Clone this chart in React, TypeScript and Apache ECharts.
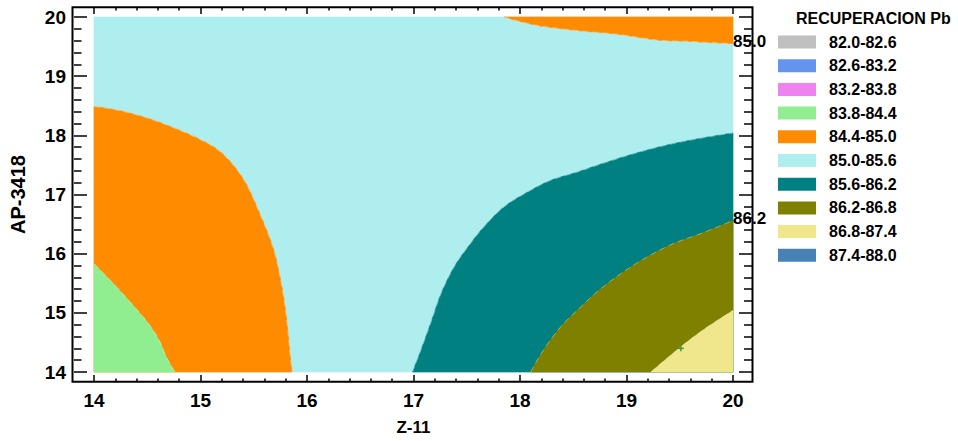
import React, { useEffect, useRef } from "react";
import * as echarts from "echarts";

// ---- Data ----
const xMin = 14, xMax = 20, yMin = 14, yMax = 20;

const legendClasses = [
  "82.0-82.6", "82.6-83.2", "83.2-83.8", "83.8-84.4", "84.4-85.0",
  "85.0-85.6", "85.6-86.2", "86.2-86.8", "86.8-87.4", "87.4-88.0",
];
const classColors = [
  "#C0C0C0", "#6495ED", "#EE82EE", "#90EE90", "#FF8C00",
  "#AFEEEE", "#008080", "#808000", "#F0E68C", "#4682B4",
];

// contour lines (Z-11, AP-3418)
const contour84_4 = [[14, 15.83], [14.12, 15.61], [14.24, 15.38], [14.38, 15.1], [14.51, 14.82], [14.61, 14.54], [14.68, 14.25], [14.76, 14]];
const contour85_0Left = [[14, 18.49], [14.26, 18.41], [14.57, 18.25], [14.95, 17.97], [15.2, 17.7], [15.41, 17.24], [15.57, 16.62], [15.68, 16.11], [15.74, 15.67], [15.79, 15.16], [15.82, 14.71], [15.84, 14.32], [15.86, 14]];
const contour85_0Top = [[17.85, 20], [18.01, 19.92], [18.22, 19.84], [18.6, 19.76], [18.91, 19.71], [19.29, 19.61], [19.57, 19.59], [19.76, 19.57], [20, 19.55]];
const contour85_6 = [[16.99, 14], [17.07, 14.37], [17.17, 14.87], [17.26, 15.33], [17.38, 15.77], [17.51, 16.11], [17.66, 16.45], [17.85, 16.79], [18.07, 17.04], [18.29, 17.24], [18.54, 17.38], [18.82, 17.55], [19.13, 17.72], [19.44, 17.86], [19.76, 17.97], [20, 18.04]];
const contour86_2 = [[18.1, 14], [18.22, 14.37], [18.38, 14.76], [18.57, 15.1], [18.76, 15.41], [18.97, 15.69], [19.19, 15.94], [19.44, 16.17], [19.7, 16.34], [20, 16.56]];
const contour86_8 = [[19.23, 14], [19.38, 14.23], [19.57, 14.51], [19.76, 14.76], [20, 15.04]];

const contourLabels = ["85.0", "86.2"];
const contourLabelLines = [contour85_0Top, contour86_2];

const markerPoints = [[19.51, 14.4]];

type Region = { curve: number[][]; corners: number[][] };
// filled regions per class index
const regions: Record<number, Region[]> = {
  3: [{ curve: contour84_4, corners: [[xMin, yMin]] }],
  4: [
    { curve: contour85_0Left, corners: [[xMin, yMin]] },
    { curve: contour85_0Top, corners: [[xMax, yMax]] },
  ],
  5: [{ curve: [], corners: [[xMin, yMin], [xMin, yMax], [xMax, yMax], [xMax, yMin]] }],
  6: [{ curve: contour85_6, corners: [[xMax, yMin]] }],
  7: [{ curve: contour86_2, corners: [[xMax, yMin]] }],
  8: [{ curve: contour86_8, corners: [[xMax, yMin]] }],
};
const layerZ: Record<number, number> = { 3: 3, 4: 2, 5: 1, 6: 2, 7: 3, 8: 4 };
const allContours = [contour84_4, contour85_0Left, contour85_0Top, contour85_6, contour86_2, contour86_8];

const FONT = "'Liberation Sans', Arial, Helvetica, sans-serif";

// Catmull-Rom smoothing of already-projected pixel points (rendering only)
function smoothPixels(pts: number[][], seg = 8): number[][] {
  const n = pts.length;
  if (n < 3) return pts.slice();
  const out: number[][] = [];
  for (let i = 0; i < n - 1; i++) {
    const p0 = pts[Math.max(i - 1, 0)];
    const p1 = pts[i];
    const p2 = pts[i + 1];
    const p3 = pts[Math.min(i + 2, n - 1)];
    for (let s = 0; s < seg; s++) {
      const t = s / seg, t2 = t * t, t3 = t2 * t;
      const f = (a: number, b: number, c: number, d: number) =>
        0.5 * (2 * b + (-a + c) * t + (2 * a - 5 * b + 4 * c - d) * t2 + (-a + 3 * b - 3 * c + d) * t3);
      out.push([f(p0[0], p1[0], p2[0], p3[0]), f(p0[1], p1[1], p2[1], p3[1])]);
    }
  }
  out.push(pts[n - 1]);
  return out;
}

export default function App() {
  const ref = useRef<HTMLDivElement>(null);
  useEffect(() => {
    if (!ref.current) return;
    const chart = echarts.init(ref.current, undefined, { renderer: "svg" });

    const classSeries = legendClasses.map((name, ci) => {
      const polys = regions[ci] || [];
      return {
        type: "custom",
        name,
        coordinateSystem: "cartesian2d",
        z: layerZ[ci] || 1,
        itemStyle: { color: classColors[ci] },
        data: polys.map((p) => (p.curve.length ? p.curve[0] : p.corners[0])),
        renderItem: (params: any, api: any) => {
          const reg = polys[params.dataIndex];
          const curvePx = smoothPixels(reg.curve.map((pt) => api.coord(pt)));
          const points = [...reg.corners.map((pt) => api.coord(pt)), ...curvePx];
          return {
            type: "polygon",
            shape: { points },
            style: { fill: classColors[ci], stroke: classColors[ci], lineWidth: 0.6 },
          };
        },
      };
    });

    // faint light traces along the contour lines
    const traceSeries = {
      type: "custom",
      coordinateSystem: "cartesian2d",
      z: 8,
      silent: true,
      data: allContours.map((c) => c[0]),
      renderItem: (params: any, api: any) => {
        const c = allContours[params.dataIndex];
        const pts = smoothPixels(c.map((pt) => api.coord(pt)));
        return {
          type: "polyline",
          shape: { points: pts },
          style: { stroke: "rgba(255,255,255,0.35)", lineWidth: 1, fill: "none", lineDash: [6, 4] },
        };
      },
    };

    const labelSeries = {
      type: "custom",
      coordinateSystem: "cartesian2d",
      z: 10,
      clip: false,
      data: contourLabelLines.map((l) => l[l.length - 1]),
      renderItem: (params: any, api: any) => {
        const c = api.coord([api.value(0), api.value(1)]);
        return {
          type: "text",
          x: c[0],
          y: c[1] - 2,
          style: {
            text: contourLabels[params.dataIndex],
            fill: "#000",
            font: `bold 17px ${FONT}`,
            align: "left",
            verticalAlign: "middle",
          },
        };
      },
    };

    const markerSeries = {
      type: "custom",
      coordinateSystem: "cartesian2d",
      z: 9,
      data: markerPoints,
      renderItem: (params: any, api: any) => {
        const c = api.coord([api.value(0), api.value(1)]);
        const st = { stroke: "#3c9a3c", lineWidth: 1.5 };
        return {
          type: "group",
          children: [
            { type: "line", shape: { x1: c[0] - 3, y1: c[1], x2: c[0] + 3, y2: c[1] }, style: st },
            { type: "line", shape: { x1: c[0], y1: c[1] - 3, x2: c[0], y2: c[1] + 3 }, style: st },
          ],
        };
      },
    };

    const tickStyle = { color: "#000", width: 1.5 };
    const labelFont = { fontFamily: FONT, fontWeight: "bold", fontSize: 19, color: "#000" };

    const xBase = {
      type: "value",
      min: xMin,
      max: xMax,
      interval: 1,
      offset: 10,
      axisLine: { show: false },
      splitLine: { show: false },
      axisTick: { show: true, inside: true, length: 7, lineStyle: tickStyle },
      minorTick: { show: true, splitNumber: 5, length: 3.5, lineStyle: tickStyle },
    };
    const yBase = {
      type: "value",
      min: yMin,
      max: yMax,
      interval: 1,
      axisLine: { show: false },
      splitLine: { show: false },
      axisTick: { show: true, inside: true, length: 13, lineStyle: tickStyle },
      minorTick: { show: true, splitNumber: 5, length: 7.5, lineStyle: tickStyle },
    };

    chart.setOption({
      animation: false,
      backgroundColor: "#fff",
      grid: { left: 92, right: 225, top: 17, bottom: 69, containLabel: false },
      title: {
        text: "RECUPERACION Pb",
        left: 796,
        top: 10,
        padding: 0,
        textStyle: { fontFamily: FONT, fontWeight: "bold", fontSize: 16, color: "#000" },
      },
      legend: {
        data: legendClasses,
        orient: "vertical",
        left: 778,
        top: 33,
        padding: 0,
        itemWidth: 38,
        itemHeight: 13,
        itemGap: 5.7,
        icon: "rect",
        selectedMode: false,
        textStyle: { fontFamily: FONT, fontWeight: "bold", fontSize: 16, color: "#000", lineHeight: 18, padding: [0, 0, 0, 8] },
      },
      xAxis: [
        {
          ...xBase,
          position: "bottom",
          axisLabel: { ...labelFont, margin: 9 },
          name: "Z-11",
          nameLocation: "middle",
          nameGap: 37,
          nameTextStyle: { fontFamily: FONT, fontWeight: "bold", fontSize: 17, color: "#000" },
        },
        { ...xBase, position: "top", axisLabel: { show: false } },
      ],
      yAxis: [
        {
          ...yBase,
          position: "left",
          offset: 20,
          axisLabel: { ...labelFont, margin: 8 },
          name: "AP-3418",
          nameLocation: "middle",
          nameGap: 46,
          nameTextStyle: { fontFamily: FONT, fontWeight: "bold", fontSize: 20, color: "#000" },
        },
        { ...yBase, position: "right", offset: 19, axisLabel: { show: false }, minorTick: { ...yBase.minorTick, length: 8 } },
      ],
      graphic: [
        {
          type: "rect",
          shape: { x: 72.5, y: 7.3, width: 680, height: 374.5 },
          style: { fill: "none", stroke: "#000", lineWidth: 2 },
          z: 100,
          silent: true,
        },
      ],
      series: [...classSeries, traceSeries, markerSeries, labelSeries],
    });

    return () => chart.dispose();
  }, []);

  return (
    <div
      ref={ref}
      style={{ position: "fixed", left: 0, top: 0, width: 958, height: 441, background: "#fff" }}
    />
  );
}
